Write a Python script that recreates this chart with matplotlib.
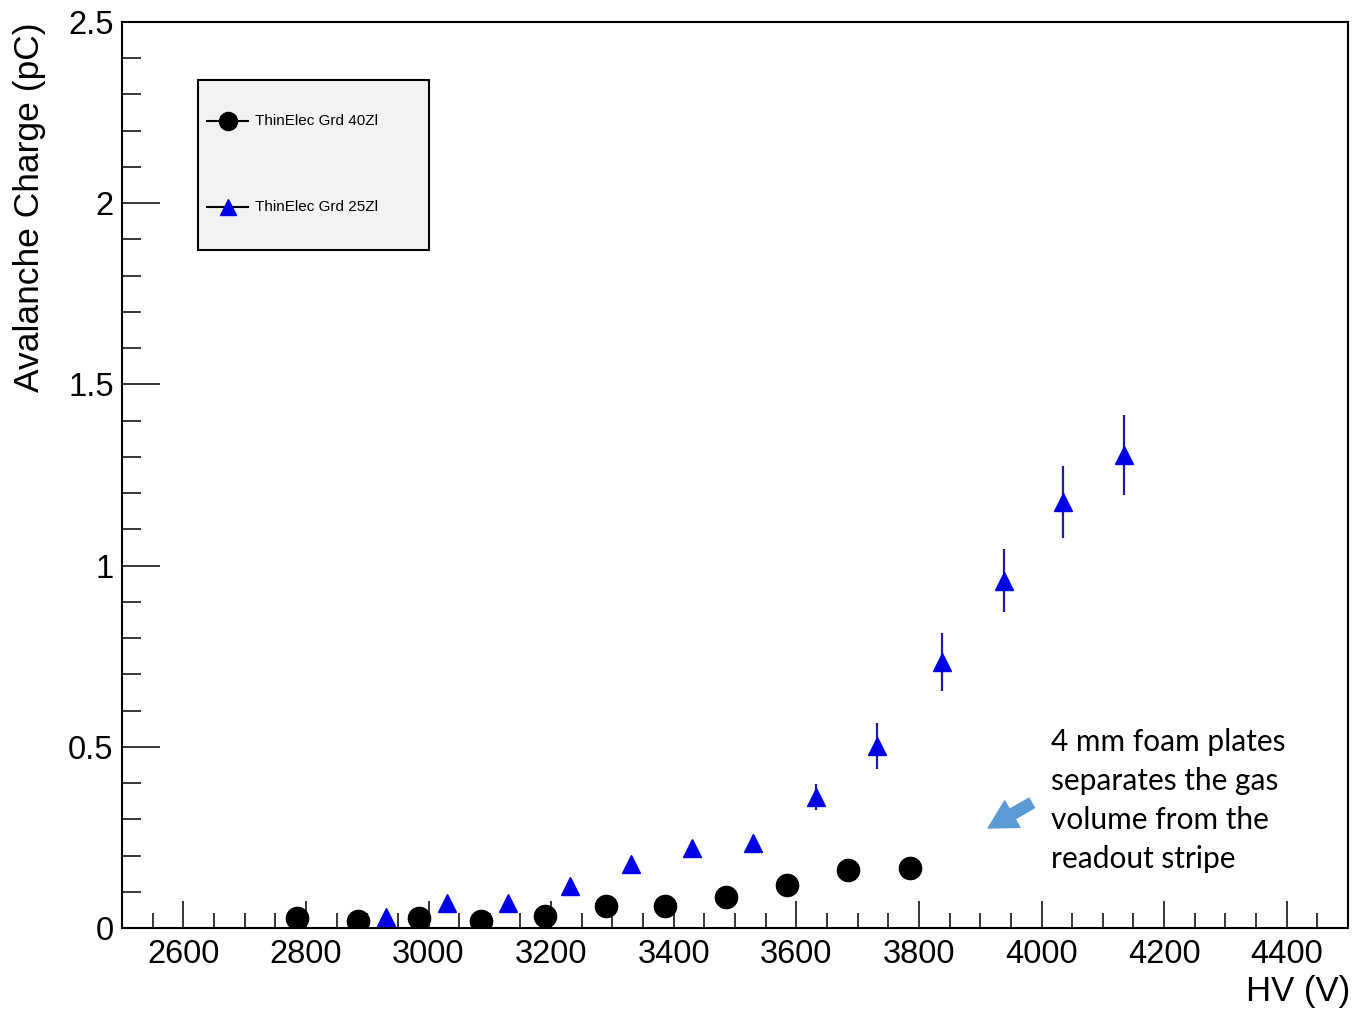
import matplotlib
matplotlib.use("Agg")
import matplotlib.pyplot as plt
from matplotlib.ticker import MultipleLocator
from matplotlib.patches import Rectangle

# Data
hv_40 = [2785, 2885, 2985, 3085, 3190, 3290, 3385, 3485, 3585, 3685, 3785]
q_40 = [0.028, 0.019, 0.028, 0.019, 0.033, 0.061, 0.061, 0.086, 0.119, 0.160, 0.166]
err_40 = [0.005, 0.005, 0.005, 0.005, 0.006, 0.008, 0.008, 0.010, 0.012, 0.015, 0.016]

hv_25 = [2930, 3030, 3130, 3230, 3330, 3430, 3530, 3632, 3732, 3838, 3938, 4035, 4135]
q_25 = [0.030, 0.069, 0.069, 0.116, 0.177, 0.221, 0.235, 0.362, 0.502, 0.734, 0.958, 1.176, 1.305]
err_25 = [0.010, 0.012, 0.012, 0.015, 0.018, 0.020, 0.022, 0.035, 0.063, 0.080, 0.087, 0.100, 0.110]

label_40 = "ThinElec Grd 40Zl"
label_25 = "ThinElec Grd 25Zl"
note = "4 mm foam plates\nseparates the gas\nvolume from the\nreadout stripe"

plt.rcParams['font.family'] = ['Liberation Sans', 'DejaVu Sans']

fig = plt.figure(figsize=(13.54, 10.13), dpi=100)
ax = fig.add_axes([0.0901, 0.0839, 0.9055, 0.8944])

ax.errorbar(hv_25, q_25, yerr=err_25, fmt='^', ms=13, color='#0000e6',
            mec='#0000e6', ecolor='#1c1c9c', elinewidth=1.6, capsize=0, zorder=3)
ax.errorbar(hv_40, q_40, yerr=err_40, fmt='o', ms=16, color='black',
            ecolor='black', elinewidth=1.6, capsize=0, zorder=4)

ax.set_xlim(2500, 4500)
ax.set_ylim(0, 2.5)
ax.xaxis.set_major_locator(MultipleLocator(200))
ax.xaxis.set_minor_locator(MultipleLocator(50))
ax.yaxis.set_major_locator(MultipleLocator(0.5))
ax.yaxis.set_minor_locator(MultipleLocator(0.1))
ax.yaxis.set_major_formatter(plt.FuncFormatter(lambda v, p: "%g" % v))

ax.tick_params(axis='both', which='both', direction='in', width=1.1,
               labelsize=23.5, top=False, right=False)
ax.tick_params(axis='x', which='major', length=19.5, pad=8)
ax.tick_params(axis='x', which='minor', length=11)
ax.tick_params(axis='y', which='major', length=27, pad=6)
ax.tick_params(axis='y', which='minor', length=14)
for s in ax.spines.values():
    s.set_linewidth(1.5)

ax.set_xlabel("HV (V)", fontsize=25, loc='right')
ax.xaxis.set_label_coords(1.0016, -0.052)
ax.set_ylabel("Avalanche Charge (pC)", fontsize=25.5, loc='top')
ax.yaxis.set_label_coords(-0.062, 1.0)

# legend box drawn by hand to match the ROOT layout
ax.add_patch(Rectangle((0.062, 0.748), 0.1884, 0.188, transform=ax.transAxes,
                       facecolor='#f2f2f2', edgecolor='black', lw=1.5, zorder=5))
ax.plot([0.0693, 0.1028], [0.8907, 0.8907], transform=ax.transAxes,
        color='black', lw=1.5, zorder=6)
ax.plot([0.0865], [0.8907], 'o', ms=13, color='black', transform=ax.transAxes, zorder=7)
ax.plot([0.0693, 0.1028], [0.7958, 0.7958], transform=ax.transAxes,
        color='black', lw=1.5, zorder=6)
ax.plot([0.0865], [0.7958], '^', ms=12, color='#0000e6', transform=ax.transAxes, zorder=7)
ax.text(0.1085, 0.8907, label_40, transform=ax.transAxes, fontsize=11,
        va='center', ha='left', zorder=7)
ax.text(0.1085, 0.7958, label_25, transform=ax.transAxes, fontsize=11,
        va='center', ha='left', zorder=7)

# annotation
ax.text(0.7575, 0.141, note, transform=ax.transAxes, fontsize=21.5,
        family=['Lato', 'DejaVu Sans'], va='center', ha='left', linespacing=1.48)
ax.annotate('', xy=(3913, 0.276), xytext=(3984, 0.345),
            arrowprops=dict(arrowstyle='simple,head_length=1.0,head_width=1.1,tail_width=0.4',
                            color='#5b9bd5', mutation_scale=20, shrinkA=0, shrinkB=0))

fig.savefig("out.png", dpi=100)
